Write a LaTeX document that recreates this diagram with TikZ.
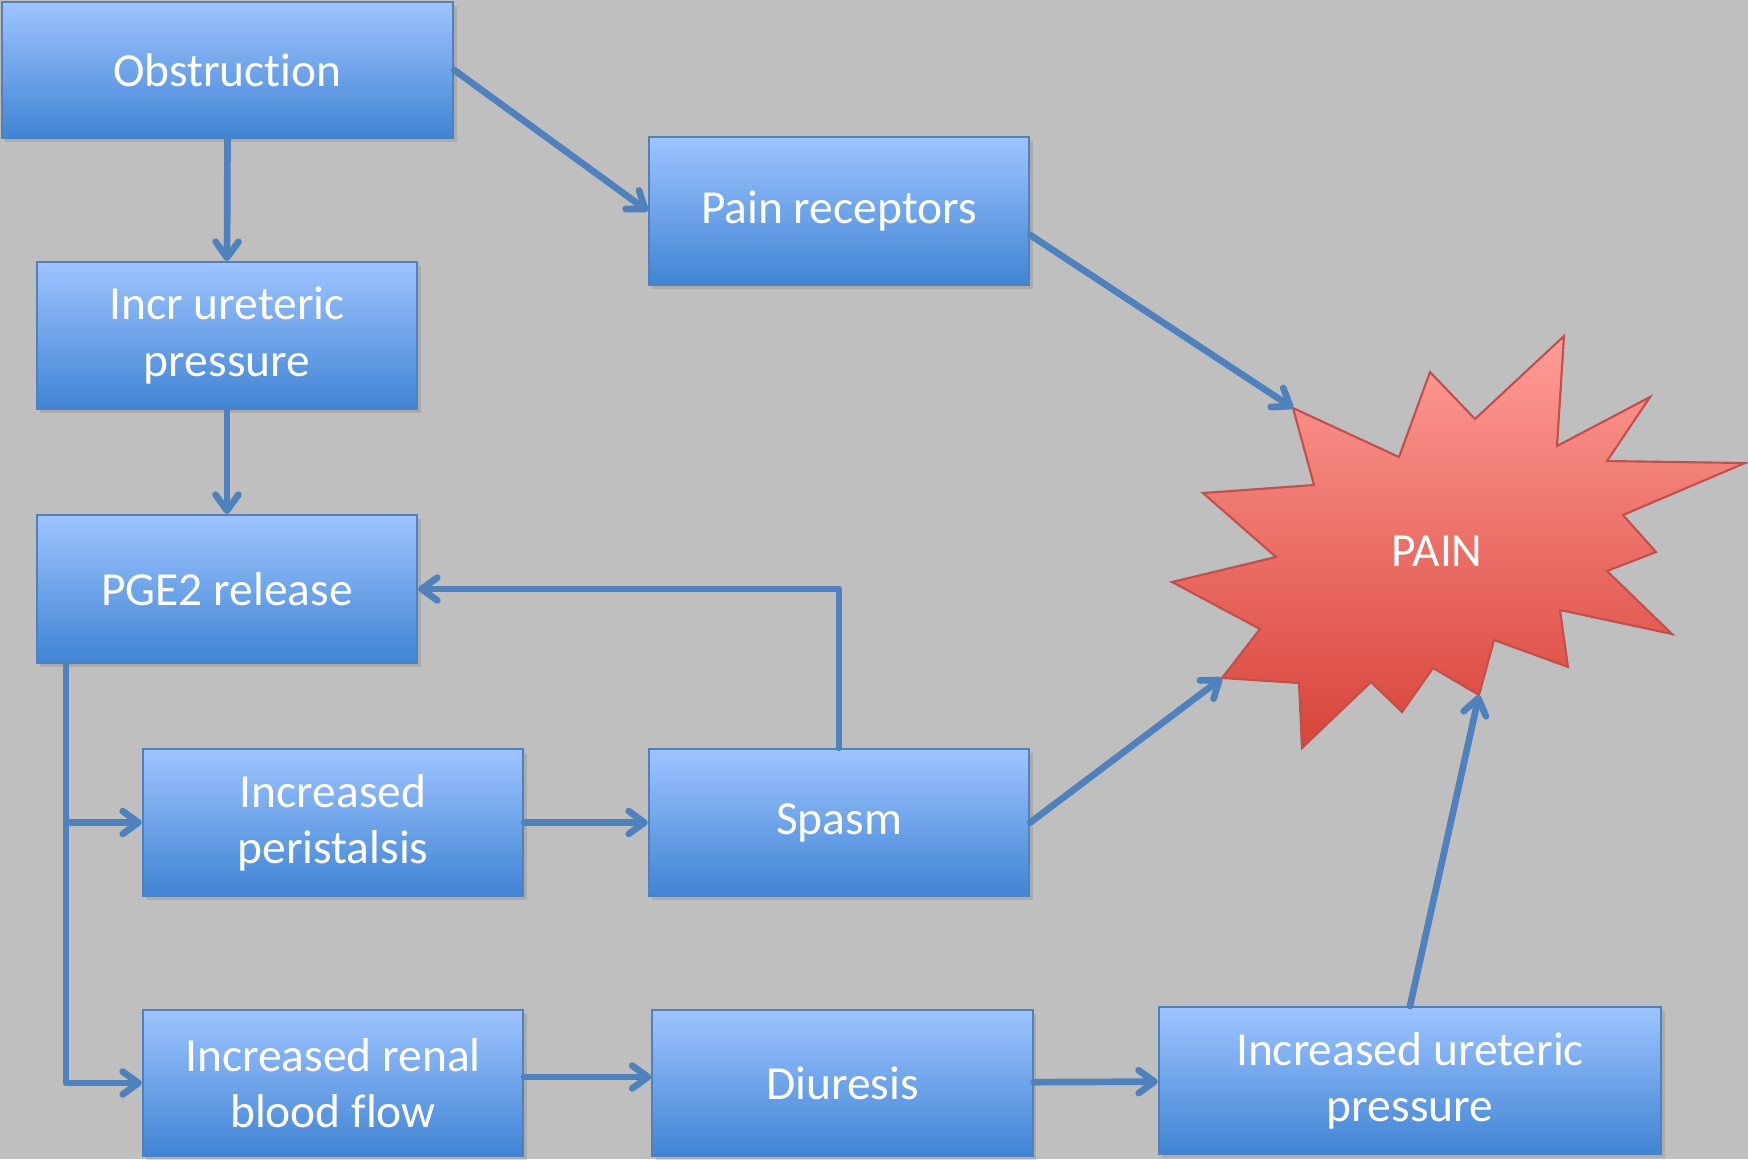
\documentclass[tikz,border=0pt]{standalone}
\usepackage{fontspec}
\setmainfont[Ligatures=NoCommon]{Carlito}
\usepackage{xcolor}
\usepackage{tikz}
\usetikzlibrary{arrows.meta}
\usetikzlibrary{shadows}

\definecolor{bgGray}{RGB}{191,191,191}
\definecolor{boxTop}{RGB}{158,196,255}
\definecolor{boxBot}{RGB}{64,132,212}
\definecolor{boxLine}{RGB}{79,129,189}
\definecolor{painTop}{RGB}{255,156,150}
\definecolor{painBot}{RGB}{216,68,58}
\definecolor{painLine}{RGB}{192,80,77}

\begin{document}
\begin{tikzpicture}[x=0.01cm,y=-0.01cm,
	stepbox/.style={draw=boxLine,line width=0.6pt,top color=boxTop,bottom color=boxBot,
		text=white,align=center,inner sep=0pt,minimum width=3.8cm,minimum height=1.47cm,
		font=\fontsize{13.5}{16}\selectfont,
		drop shadow={shadow xshift=1pt,shadow yshift=-1.2pt,opacity=0.3}},
	link/.style={draw=boxLine,line width=1.9pt,line cap=round,line join=round,
		-{Straight Barb[length=4.5pt,width=6.5pt,round]}}]
		\fill[bgGray] (0,0) rectangle (1748,1159);
		\useasboundingbox (0,0) rectangle (1748,1159);
		\node[stepbox,minimum width=4.51cm,minimum height=1.36cm] (obs) at (227.5,70) {Obstruction};
		\node[stepbox,minimum height=1.48cm] (painrec) at (839,211) {Pain receptors};
		\node[stepbox] (incr) at (227,335.5) {Incr ureteric\\pressure};
		\node[stepbox,minimum height=1.48cm] (pge) at (227,589) {PGE2 release};
		\node[stepbox] (peri) at (333,822.5) {Increased\\peristalsis};
		\node[stepbox] (spasm) at (839,822.5) {Spasm};
		\node[stepbox,minimum height=1.46cm] (renal) at (333,1083) {Increased renal\\blood flow};
		\node[stepbox,minimum height=1.46cm] (diur) at (842.5,1083) {Diuresis};
		\node[stepbox,minimum width=5.02cm] (iup) at (1410,1080.5) {Increased ureteric\\pressure};
		\path[draw=painLine,line width=0.6pt,top color=painTop,bottom color=painBot,line join=miter]
			(1293,408) -- (1399,457) -- (1430,372) -- (1475,419) -- (1564,336) -- (1557,446)
			-- (1650,397) -- (1607,461) -- (1745,463) -- (1623,515) -- (1656,552) -- (1607,571)
			-- (1672,634) -- (1560,610) -- (1568,667) -- (1494,640) -- (1479,695) -- (1433,668)
			-- (1402,712) -- (1371,682) -- (1302,748) -- (1299,683) -- (1222,678) -- (1260,629)
			-- (1172,582) -- (1276,557) -- (1203,493) -- (1314,485) -- cycle;
		\coordinate (hitA) at (1293,408);
		\coordinate (hitB) at (1222,678);
		\coordinate (hitC) at (1479,695);
		\node[text=white,font=\fontsize{13.5}{16}\selectfont] (pain) at (1437,551) {PAIN};
		\draw[link] (obs.south) -- (incr.north);
		\draw[link] (incr.south) -- (pge.north);
		\draw[link] (obs.east) -- (painrec.west);
		\draw[link] ([yshift=-0.24cm]painrec.east) -- (hitA);
		\draw[link] (spasm.north) |- (pge.east);
		\draw[link] ([xshift=0.3cm]pge.south west) |- (peri.west);
		\draw[link] ([xshift=0.3cm]pge.south west) |- (renal.west);
		\draw[link] (peri) -- (spasm);
		\draw[link] ([yshift=0.06cm]renal.east) -- ([yshift=0.06cm]diur.west);
		\draw[link] (diur) -- (iup);
		\draw[link] (spasm.east) -- (hitB);
		\draw[link] (iup.north) -- (hitC);
	\end{tikzpicture}
\end{document}
